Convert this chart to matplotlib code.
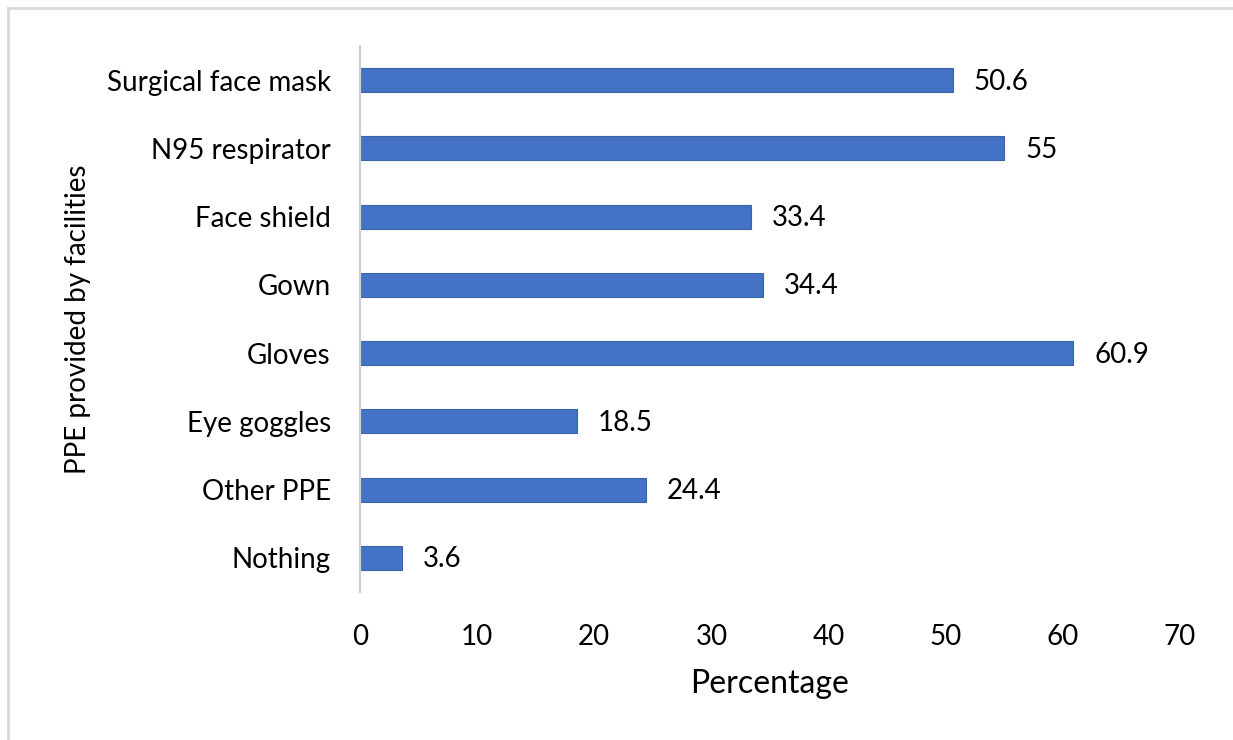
import matplotlib
matplotlib.use("Agg")
import matplotlib.pyplot as plt
from matplotlib.lines import Line2D

categories = ["Surgical face mask", "N95 respirator", "Face shield", "Gown",
              "Gloves", "Eye goggles", "Other PPE", "Nothing"]
values = [50.6, 55, 33.4, 34.4, 60.9, 18.5, 24.4, 3.6]
value_labels = ["50.6", "55", "33.4", "34.4", "60.9", "18.5", "24.4", "3.6"]
x_ticks = [0, 10, 20, 30, 40, 50, 60, 70]

plt.rcParams["font.family"] = ["Lato", "DejaVu Sans"]

fig = plt.figure(figsize=(12.33, 7.40), dpi=100)
ax = fig.add_axes([360 / 1233, 1 - 592 / 740, 820 / 1233, 546 / 740])

n = len(categories)
ypos = list(range(n - 1, -1, -1))
ax.barh(ypos, values, height=0.35, color="#4472C4",
        edgecolor="#3B63AA", linewidth=0.8, zorder=2)

for y, v, lab in zip(ypos, values, value_labels):
    ax.annotate(lab, xy=(v, y), xytext=(15, -1), textcoords="offset points",
                va="center", ha="left", fontsize=20, color="#000000")

ax.set_xlim(0, 70)
ax.set_ylim(-0.5, n - 0.5)
ax.set_xticks(x_ticks)
ax.set_xticklabels([str(t) for t in x_ticks], fontsize=20)
ax.set_yticks(ypos)
ax.set_yticklabels(categories, fontsize=20)
ax.tick_params(axis="both", length=0)
ax.tick_params(axis="y", pad=21)
ax.tick_params(axis="x", pad=23)

for side in ("top", "right", "bottom"):
    ax.spines[side].set_visible(False)
ax.spines["left"].set_color("#D0D0D0")
ax.spines["left"].set_linewidth(1.6)

ax.set_xlabel("Percentage", fontsize=23, labelpad=14)
ax.set_ylabel("PPE provided by facilities", fontsize=20, labelpad=11)

# light frame around the chart area
fig.add_artist(Line2D([8 / 1233, 1.0], [1 - 8 / 740, 1 - 8 / 740],
                      transform=fig.transFigure, color="#D9D9D9", linewidth=2))
fig.add_artist(Line2D([8 / 1233, 8 / 1233], [0.0, 1 - 8 / 740],
                      transform=fig.transFigure, color="#D9D9D9", linewidth=2))

fig.savefig("out.png", dpi=100, facecolor="white")
